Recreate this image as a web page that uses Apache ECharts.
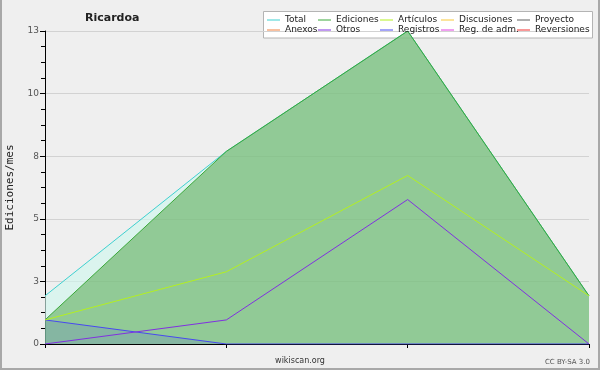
<!DOCTYPE html>
<html>
<head>
<meta charset="utf-8">
<script src="https://cdn.jsdelivr.net/npm/echarts@6/dist/echarts.min.js"></script>
<style>
html,body{margin:0;padding:0;background:#efefef;}
#c{width:600px;height:370px;}
</style>
</head>
<body>
<div id="c"></div>
<script>
// ---- data ----
const categories = ['2019-11', '2019-12', '2020-01', '2020-02'];
const total      = [2, 8, 13, 2];
const ediciones  = [1, 8, 13, 2];
const articulos  = [1, 3, 7, 2];
const discusiones = [];
const proyecto   = [];
const anexos     = [];
const otros      = [0, 1, 6, 0];
const registros  = [1, 0, 0, 0];
const regAdm     = [];
const reversiones = [];
const titleText = 'Ricardoa';
const yName = 'Ediciones/mes';

const FONT = 'DejaVu Sans';
const chart = echarts.init(document.getElementById('c'), null, {renderer: 'canvas'});

function mkSeries(name, data, color, area, z) {
  const s = {
    name: name, type: 'line', data: data, symbol: 'none', smooth: false,
    lineStyle: {color: color, width: 1},
    itemStyle: {color: color},
    z: z, silent: true, animation: false
  };
  if (area) s.areaStyle = area;
  return s;
}

const series = [
  mkSeries('Total', total, '#3fd0d0', {color: 'rgb(208,246,236)', opacity: 0.65}, 2),
  mkSeries('Ediciones', ediciones, '#3aa83a', {color: '#47a03e', opacity: 0.5}, 3),
  mkSeries('Registros', registros, '#4848f0', {color: '#4040f0', opacity: 0.14}, 4),
  mkSeries('Artículos', articulos, '#b4f020', null, 5),
  mkSeries('Otros', otros, '#8030e0', null, 6),
  mkSeries('Discusiones', discusiones, '#f8c838', null, 1),
  mkSeries('Proyecto', proyecto, '#606060', null, 1),
  mkSeries('Anexos', anexos, '#f08040', null, 1),
  mkSeries('Reg. de adm.', regAdm, '#e040e0', null, 1),
  mkSeries('Reversiones', reversiones, '#f03030', null, 1)
];

const legendRows = [
  ['Total', 'Ediciones', 'Artículos', 'Discusiones', 'Proyecto'],
  ['Anexos', 'Otros', 'Registros', 'Reg. de adm.', 'Reversiones']
];
const colX = [267, 318, 380, 441, 517];
const rowY = [15.5, 25.5];
const legends = [];
legendRows.forEach((row, r) => {
  row.forEach((name, c) => {
    legends.push({
      data: [name], left: colX[c], top: rowY[r], padding: 0,
      itemWidth: 13, itemHeight: 1, icon: 'rect', selectedMode: false,
      textStyle: {fontFamily: FONT, fontSize: 9, color: '#222', padding: 0}
    });
  });
});

chart.setOption({
  backgroundColor: '#efefef',
  animation: false,
  title: {
    text: titleText, left: 85, top: 12.5, padding: 0,
    textStyle: {fontFamily: FONT, fontSize: 11, fontWeight: 'bold', color: '#222'}
  },
  legend: legends,
  grid: {left: 45, right: 11, top: 31, bottom: 26, containLabel: false, outerBoundsMode: 'none'},
  xAxis: {
    type: 'category', data: categories, boundaryGap: false,
    axisLine: {lineStyle: {color: '#000', width: 1}},
    axisTick: {show: true, length: 4, alignWithLabel: true, lineStyle: {color: '#000'}},
    axisLabel: {show: false},
    splitLine: {show: false}
  },
  yAxis: {
    type: 'value', min: 0, max: 13, interval: 2.6,
    name: yName, nameLocation: 'middle', nameGap: 29,
    nameTextStyle: {fontFamily: 'DejaVu Sans Mono', fontSize: 11, color: '#222'},
    axisLine: {show: true, lineStyle: {color: '#000', width: 1}},
    axisTick: {show: true, length: 5, lineStyle: {color: '#000'}},
    minorTick: {show: true, splitNumber: 4, length: 4, lineStyle: {color: '#000'}},
    axisLabel: {
      fontFamily: FONT, fontSize: 9, color: '#555', margin: 6,
      formatter: v => String(Math.round(v))
    },
    splitLine: {show: true, lineStyle: {color: '#d2d2d2', width: 1}},
    minorSplitLine: {show: false}
  },
  series: series,
  graphic: [
    {type: 'rect', z: -1, silent: true,
     shape: {x: 263.5, y: 11.5, width: 329, height: 26.5},
     style: {fill: '#ffffff', stroke: '#b4b4b4', lineWidth: 1}},
    {type: 'text', silent: true, x: 300, y: 361,
     style: {text: 'wikiscan.org', fontFamily: FONT, fontSize: 8, fill: '#333', align: 'center', verticalAlign: 'middle'}},
    {type: 'text', silent: true, x: 590, y: 362,
     style: {text: 'CC BY-SA 3.0', fontFamily: FONT, fontSize: 7, fill: '#555', align: 'right', verticalAlign: 'middle'}},
    {type: 'polyline', silent: true, z: 100,
     shape: {points: [[1, 0], [1, 369], [599, 369], [599, 0]]},
     style: {fill: null, stroke: '#a8a8a8', lineWidth: 2}}
  ]
});
</script>
</body>
</html>
